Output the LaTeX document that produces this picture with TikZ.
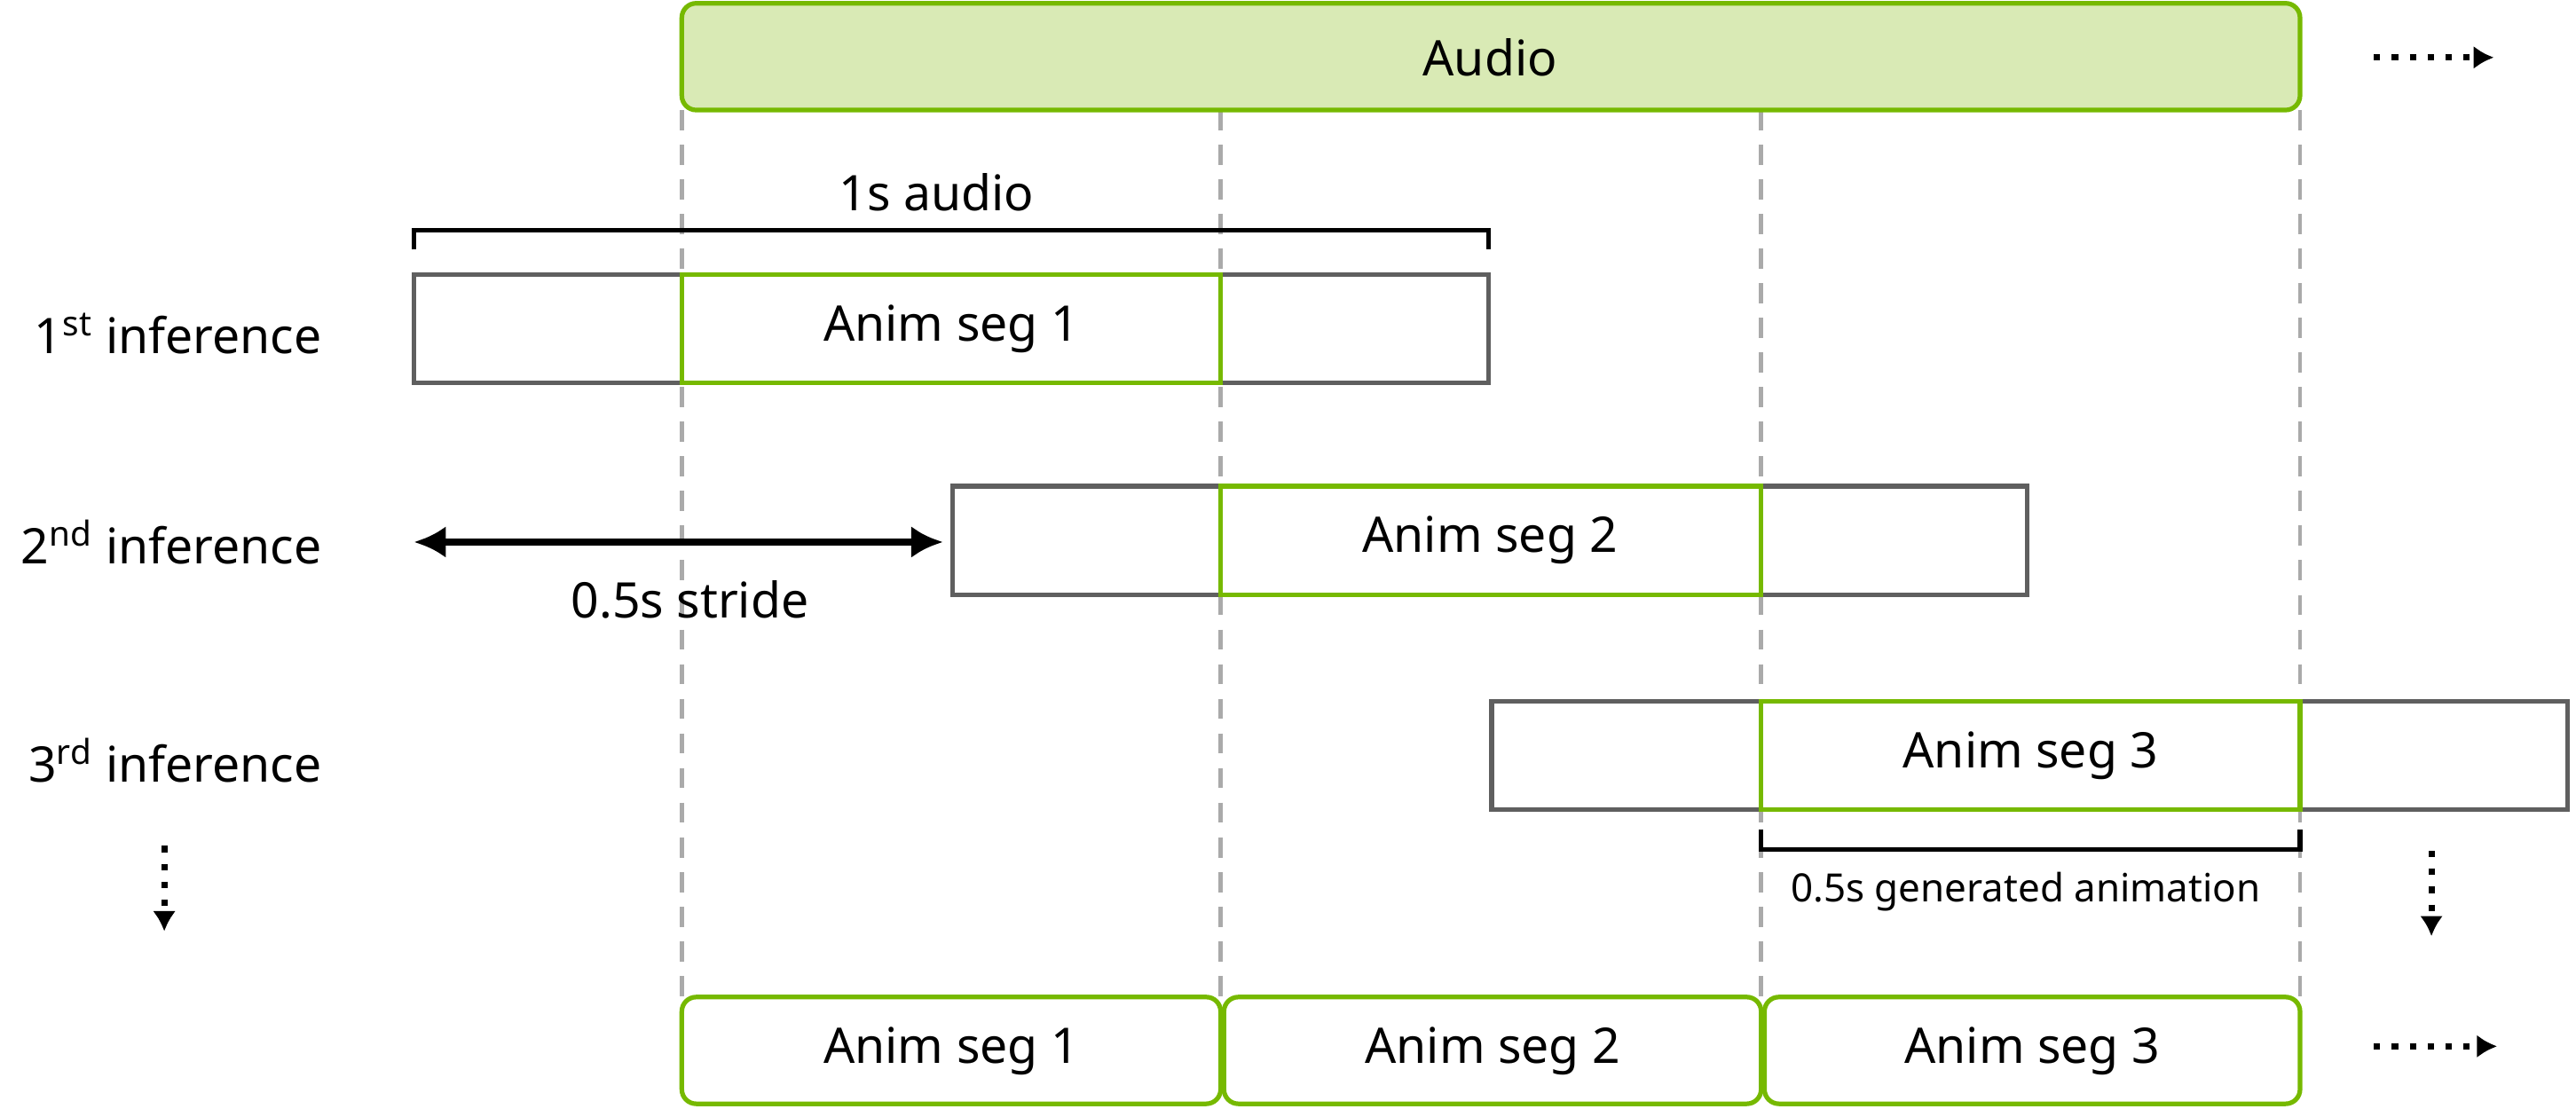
\documentclass[tikz,border=0pt]{standalone}
\usepackage{fontspec}
\setmainfont{Noto Sans}
\definecolor{nvgreen}{HTML}{76B900}
\definecolor{nvlight}{HTML}{D9EAB5}
\definecolor{boxgray}{HTML}{5F5F5F}
\definecolor{dashgray}{HTML}{AAAAAA}
\tikzset{
  seg/.style={draw=boxgray,line width=1.6pt},
  anim/.style={draw=nvgreen,line width=1.6pt},
  guide/.style={dashgray,dashed,line width=1.4pt,dash pattern=on 7pt off 5pt},
  dots/.style={line width=2.2pt,dash pattern=on 2.2pt off 4pt,-{Latex[length=7pt,width=8pt]}},
  lbl/.style={font=\fontsize{17}{20}\selectfont},
  rowlbl/.style={lbl,anchor=east}
}
\usetikzlibrary{arrows.meta}
\begin{document}
\begin{tikzpicture}[x=0.02cm,y=-0.02cm]
        \useasboundingbox (0,0) rectangle (1568,675);
        % guides
        \foreach \x in {415,743,1072,1400}
            \draw[guide] (\x,67)--(\x,607);
        % audio
        \draw[anim,fill=nvlight,rounded corners=5pt] (415,2) rectangle (1400,67);
        \node[lbl] (audio) at (907,35) {Audio};
        \draw[dots] (1445,35)--(1518,35);
        % 1s audio bracket
        \draw[line width=1.6pt] (252,152)--(252,140)--(906,140)--(906,152);
        \node[lbl] (onesec) at (570,117) {1s audio};
        % rows
        \draw[seg] (252,167) rectangle (415,233);
        \draw[seg] (743,167) rectangle (906,233);
        \draw[anim] (415,167) rectangle (743,233);
        \node[lbl] (s1) at (579,200) {Anim seg 1};
        \node[rowlbl] (r1) at (202,203) {1\textsuperscript{st} inference};
        \draw[seg] (580,296) rectangle (743,362);
        \draw[seg] (1072,296) rectangle (1234,362);
        \draw[anim] (743,296) rectangle (1072,362);
        \node[lbl] (s2) at (907,329) {Anim seg 2};
        \node[rowlbl] (r2) at (202,330) {2\textsuperscript{nd} inference};
        \draw[seg] (908,427) rectangle (1072,493);
        \draw[seg] (1400,427) rectangle (1563,493);
        \draw[anim] (1072,427) rectangle (1400,493);
        \node[lbl] (s3) at (1236,460) {Anim seg 3};
        \node[rowlbl] (r3) at (202,463) {3\textsuperscript{rd} inference};
        % stride
        \coordinate (sl) at (252,330);
        \coordinate (sr) at (574,330);
        \draw[line width=2.6pt,{Latex[length=11pt,width=11pt]}-{Latex[length=11pt,width=11pt]}] (sl)--(sr);
        \node[lbl] (stride) at (420,365) {0.5s stride};
        % generated bracket
        \draw[line width=1.6pt] (1072,505)--(1072,517)--(1400,517)--(1400,505);
        \node[font=\fontsize{13.5}{16}\selectfont] (gen) at (1233,543) {0.5s generated animation};
        \draw[dots] (100,515)--(100,567);
        \draw[dots] (1480,518)--(1480,570);
        % output
        \foreach \a/\b/\n in {415/743/1,745/1072/2,1074/1400/3}{
            \draw[anim,rounded corners=5pt] (\a,607) rectangle (\b,672);
            \node[lbl] (o\n) at ({(\a+\b)/2},640) {Anim seg \n};
        }
        \draw[dots] (1445,637)--(1520,637);
\end{tikzpicture}
\end{document}
